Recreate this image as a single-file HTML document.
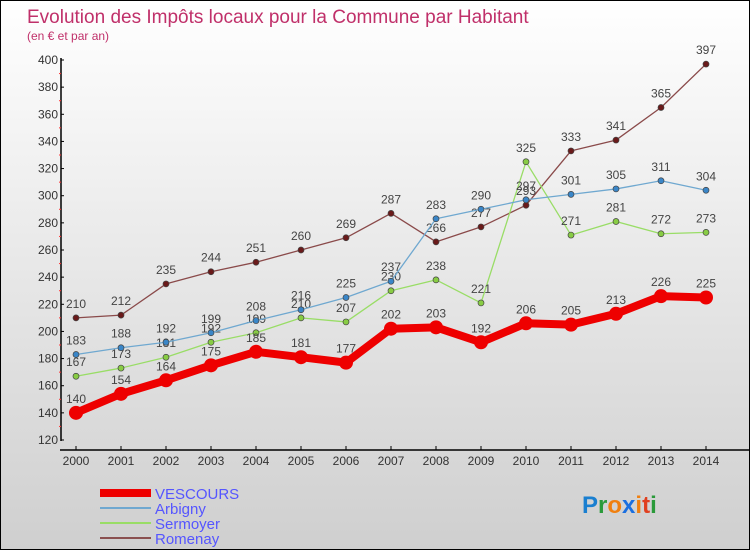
<!DOCTYPE html>
<html><head><meta charset="utf-8"><style>
html,body{margin:0;padding:0}
body{width:750px;height:550px;overflow:hidden;font-family:"Liberation Sans",sans-serif}
</style></head><body>
<svg id="chart" width="750" height="550" xmlns="http://www.w3.org/2000/svg">
<defs><linearGradient id="bg" x1="0" y1="0" x2="0" y2="1"><stop offset="0" stop-color="#ffffff"/><stop offset="1" stop-color="#cfcfcf"/></linearGradient></defs>
<rect x="0.5" y="0.5" width="749" height="549" fill="url(#bg)" stroke="#000"/>
<text x="27" y="23" font-size="19" fill="#c0306a">Evolution des Impôts locaux pour la Commune par Habitant</text>
<text x="27" y="40" font-size="12" fill="#c0306a">(en € et par an)</text>
<g id="axes"></g>
<g id="series"></g>
<g>
<rect x="100" y="489" width="51" height="8" fill="#e00"/>
<text x="155" y="499" font-size="15" fill="#5555ff">VESCOURS</text>
<rect x="100" y="507" width="51" height="2" fill="#6fa8d0"/>
<text x="155" y="514" font-size="15" fill="#5555ff">Arbigny</text>
<rect x="100" y="522" width="51" height="2" fill="#99dd66"/>
<text x="155" y="529" font-size="15" fill="#5555ff">Sermoyer</text>
<rect x="100" y="537" width="51" height="2" fill="#8a5050"/>
<text x="155" y="544" font-size="15" fill="#5555ff">Romenay</text>
</g>
<text x="582" y="513" font-size="24" font-weight="bold"><tspan fill="#1a7fd0">P</tspan><tspan fill="#2a9a3a">r</tspan><tspan fill="#f08010">o</tspan><tspan fill="#1a6fe0">x</tspan><tspan fill="#f08010">i</tspan><tspan fill="#e04020">t</tspan><tspan fill="#2a9a3a">i</tspan></text>
</svg>
<script>
const years=[2000,2001,2002,2003,2004,2005,2006,2007,2008,2009,2010,2011,2012,2013,2014];
const vescours=[140,154,164,175,185,181,177,202,203,192,206,205,213,226,225];
const arbigny=[183,188,192,199,208,216,225,237,283,290,297,301,305,311,304];
const sermoyer=[167,173,181,192,199,210,207,230,238,221,325,271,281,272,273];
const romenay=[210,212,235,244,251,260,269,287,266,277,293,333,341,365,397];
const yTicks=[120,140,160,180,200,220,240,260,280,300,320,340,360,380,400];
const NS="http://www.w3.org/2000/svg";
function xs(i){return 76+i*45;}
function ys(v){return 440-(v-120)*380/280;}
function mk(t,a,p){const e=document.createElementNS(NS,t);for(const k in a)e.setAttribute(k,a[k]);p.appendChild(e);return e;}
const ax=document.getElementById('axes');
let e=mk('line',{x1:61,y1:58,x2:61,y2:441,stroke:'#000','stroke-width':1.5},ax);


e=mk('line',{x1:60,y1:450,x2:750,y2:450,stroke:'#000','stroke-width':1.5},ax);


yTicks.forEach((v,i)=>{
  mk('line',{x1:61,y1:ys(v),x2:64,y2:ys(v),stroke:'#000'},ax);
  if(i<yTicks.length-1)mk('line',{x1:59,y1:ys(v+10),x2:61,y2:ys(v+10),stroke:'#f33'},ax);
  const t=mk('text',{x:58,y:ys(v)+4,'font-size':12,fill:'#333','text-anchor':'end'},ax);
  t.textContent=v;
  
  
});
years.forEach((y,i)=>{
  mk('line',{x1:xs(i),y1:446,x2:xs(i),y2:450,stroke:'#000'},ax);
  const t=mk('text',{x:xs(i),y:465,'font-size':12,fill:'#333','text-anchor':'middle'},ax);
  t.textContent=y;
  
  
});
const sg=document.getElementById('series');
function draw(name,data,color,lw,r,dot){
  const g=mk('g',{},sg);
  
  
  const pts=data.map((v,i)=>xs(i)+','+ys(v)).join(' ');
  const l=mk('polyline',{points:pts,fill:'none',stroke:color,'stroke-width':lw,'stroke-linejoin':'round'},g);
  
  
  data.forEach((v,i)=>{
    const c=mk('circle',{cx:xs(i),cy:ys(v),r:r,fill:dot,stroke:'#444','stroke-width':r>5?0:0.7},g);
    
    
    const t=mk('text',{x:xs(i),y:ys(v)-10,'font-size':12,fill:'#444','text-anchor':'middle'},g);
    t.textContent=v;
    
    
  });
}
draw('romenay',romenay,'#8a4a4a',1.3,3,'#6a1a1a');
draw('sermoyer',sermoyer,'#99dd66',1.3,3,'#88cc44');
draw('arbigny',arbigny,'#6fa8d0',1.3,3,'#3a86c8');
draw('vescours',vescours,'#ee0000',8,7,'#ee0000');
</script>
</body></html>
